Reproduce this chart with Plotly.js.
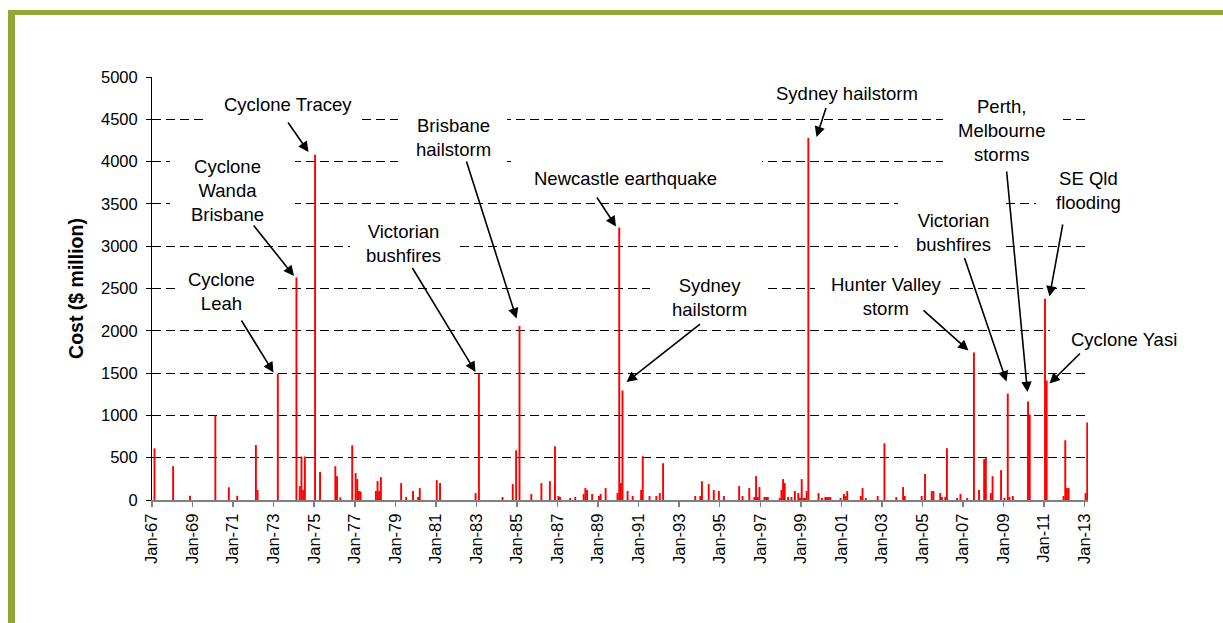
<!DOCTYPE html>
<html>
<head>
<meta charset="utf-8">
<script src="https://cdn.plot.ly/plotly-3.0.1.min.js"></script>
<style>
  html, body { margin: 0; padding: 0; background: #fff; }
  #wrap { position: relative; width: 1223px; height: 623px; overflow: hidden; }
  #chart { position: absolute; left: 0; top: 0; width: 1223px; height: 623px; }
  #frameL { position: absolute; left: 8px; top: 10px; width: 7px; height: 613px; background: #93A63A; pointer-events: none; }
  #frameT { position: absolute; left: 8px; top: 10px; width: 1215px; height: 5px; background: #93A63A; pointer-events: none; }
</style>
</head>
<body>
<div id="wrap">
  <div id="chart"></div>
  <div id="frameL"></div>
  <div id="frameT"></div>
</div>
<script>
// ---- DATA (month of event, insured cost in $ million) ----
const months = [
  '1967-02','1968-01','1968-11','1970-02','1970-10','1971-03','1972-02','1972-03','1973-03','1974-02',
  '1974-04','1974-05','1974-06','1974-07','1975-01','1975-04','1976-01','1976-02','1976-04','1976-11',
  '1977-01','1977-02','1977-03','1977-04','1978-01','1978-02','1978-03','1978-04','1979-04','1979-07',
  '1979-11','1980-02','1980-03','1981-01','1981-03','1982-12','1983-02','1984-04','1984-10','1984-12',
  '1985-02','1985-09','1986-03','1986-08','1986-11','1987-01','1987-02','1987-08','1987-11','1988-04',
  '1988-05','1988-06','1988-09','1989-01','1989-02','1989-05','1989-12','1990-01','1990-02','1990-03',
  '1990-06','1990-09','1991-02','1991-03','1991-07','1991-11','1992-01','1992-03','1993-10','1994-01',
  '1994-02','1994-06','1994-09','1994-12','1995-03','1995-12','1996-02','1996-06','1996-09','1996-10',
  '1996-11','1996-12','1997-03','1997-04','1997-05','1997-12','1998-01','1998-02','1998-03','1998-05',
  '1998-07','1998-09','1998-11','1998-12','1999-01','1999-02','1999-03','1999-04','1999-05','1999-11',
  '2000-01','2000-03','2000-04','2000-05','2000-06','2000-12','2001-02','2001-03','2001-04','2001-12',
  '2002-01','2002-03','2002-10','2003-02','2003-09','2004-01','2004-02','2004-12','2005-02','2005-06',
  '2005-07','2005-11','2005-12','2006-02','2006-03','2006-09','2006-11','2007-03','2007-07','2007-10',
  '2008-01','2008-02','2008-05','2008-06','2008-11','2009-01','2009-03','2009-04','2009-06','2010-03',
  '2010-04','2011-01','2011-02','2011-12','2012-01','2012-02','2012-03','2013-01','2013-02'
];
const costs = [
  610, 400, 50, 1000, 150, 50, 650, 120, 1490, 2630,
  165, 514, 118, 514, 4080, 330, 400, 282, 31, 647,
  318, 247, 106, 100, 106, 223, 106, 270, 200, 35,
  106, 35, 141, 235, 200, 82, 1490, 35, 188, 588,
  2058, 71, 200, 223, 635, 47, 35, 24, 35, 71,
  141, 118, 71, 47, 71, 141, 82, 3220, 200, 1294,
  106, 47, 118, 518, 47, 47, 82, 435, 47, 47,
  223, 188, 118, 106, 47, 165, 47, 141, 35, 282,
  35, 153, 35, 35, 35, 24, 118, 247, 200, 35,
  35, 106, 82, 24, 247, 24, 24, 106, 4280, 82,
  24, 35, 35, 35, 35, 24, 71, 47, 106, 47,
  141, 24, 47, 670, 35, 153, 47, 47, 306, 106,
  106, 82, 35, 35, 612, 24, 71, 24, 1744, 118,
  482, 506, 82, 282, 353, 24, 1258, 35, 47, 1164,
  1011, 2379, 1412, 47, 706, 141, 141, 82, 917
];
const yTicks = [0, 500, 1000, 1500, 2000, 2500, 3000, 3500, 4000, 4500, 5000];
const xStart = '1967-01-01', xEnd = '2013-03-01';
const yMax = 5000;

// ---- LAYOUT GEOMETRY ----
const PL = 152, PR = 135, PT = 77, PB = 123;
const W = 1223, H = 623;
const PW = W - PL - PR, PH = H - PT - PB;
const fx = p => (p - PL) / PW;          // pixel x -> paper fraction
const fy = p => (PT + PH - p) / PH;     // pixel y -> paper fraction
const t0 = Date.parse(xStart + 'T00:00:00Z'), t1 = Date.parse(xEnd + 'T00:00:00Z');
const dx = p => new Date(t0 + fx(p) * (t1 - t0)).toISOString().slice(0, 19).replace('T', ' ');
const dy = p => fy(p) * yMax;

const FONT = 'Liberation Sans, Arial, Helvetica, sans-serif';

// Event labels: text, centre (px)
const labels = [
  ['Cyclone Tracey', 288, 104],
  ['Cyclone<br>Wanda<br>Brisbane', 227, 191],
  ['Cyclone<br>Leah', 221, 291.5],
  ['Victorian<br>bushfires', 403, 243.5],
  ['Brisbane<br>hailstorm', 453, 137],
  ['Newcastle earthquake', 625, 178.5],
  ['Sydney<br>hailstorm', 709, 297],
  ['Sydney hailstorm', 847, 94],
  ['Hunter Valley<br>storm', 886, 296.5],
  ['Victorian<br>bushfires', 953, 232.5],
  ['Perth,<br>Melbourne<br>storms', 1001, 130.5],
  ['SE Qld<br>flooding', 1088, 190],
  ['Cyclone Yasi', 1124, 339]
];
// Arrows: tail (px) -> head (px)
const arrows = [
  [287, 121, 308.5, 152],
  [252.5, 224, 294, 276],
  [240.5, 319, 273.5, 372.5],
  [411.5, 266.5, 475.5, 372],
  [466, 160, 516.5, 318.5],
  [596, 196, 616, 226.5],
  [701.5, 323, 626.5, 382],
  [826.5, 106.5, 816.5, 137],
  [922, 309, 968.5, 350.5],
  [964, 256.5, 1006.5, 381.5],
  [1006.5, 170, 1027.5, 392],
  [1063, 223, 1049.5, 296.5],
  [1081.5, 352, 1049.5, 383.5]
];
// White text-box backgrounds (px): x0, x1, y0, y1
const boxes = [
  [205, 362, 86, 127],
  [170, 295, 150, 236],
  [180, 275, 268, 316],
  [398, 507, 112, 168],
  [513, 762, 150, 198],
  [350, 460, 214, 272],
  [650, 765, 272, 318],
  [760, 936, 70, 114],
  [943, 1063, 95, 186],
  [898, 1005, 198, 262],
  [815, 945, 266, 320],
  [1036, 1090, 158, 215],
  [1050, 1200, 320, 356]
];

const annotations = [];
labels.forEach(l => {
  annotations.push({
    xref: 'paper', yref: 'paper', x: fx(l[1]), y: fy(l[2]),
    xanchor: 'center', yanchor: 'middle', showarrow: false,
    text: l[0], align: 'center',
    font: {family: FONT, size: 18.5, color: '#000'}
  });
});
arrows.forEach(a => {
  annotations.push({
    xref: 'paper', yref: 'paper', x: fx(a[2]), y: fy(a[3]),
    ax: a[0] - a[2], ay: a[1] - a[3], axref: 'pixel', ayref: 'pixel',
    text: '', showarrow: true, arrowhead: 2, arrowsize: 1.3, arrowwidth: 1.6,
    arrowcolor: '#000', standoff: 0, startstandoff: 0,
    font: {size: 1}
  });
});

const shapes = boxes.map(b => ({
  type: 'rect', xref: 'x', yref: 'y', layer: 'between',
  x0: dx(b[0]), x1: dx(b[1]), y0: dy(b[3]), y1: dy(b[2]),
  fillcolor: '#ffffff', line: {width: 0}
}));

const trace = {
  type: 'bar', x: months, y: costs,
  xperiod: 'M1', xperiodalignment: 'middle',
  width: 3.0e9,
  marker: {color: '#FF0000', line: {width: 0}},
  hoverinfo: 'x+y'
};

const layout = {
  width: W, height: H,
  margin: {l: PL, r: PR, t: PT, b: PB, pad: 0},
  paper_bgcolor: '#ffffff', plot_bgcolor: '#ffffff',
  showlegend: false,
  font: {family: FONT, color: '#000'},
  xaxis: {
    type: 'date',
    range: [xStart, xEnd],
    tick0: xStart, dtick: 'M24', tickformat: '%b-%y',
    tickangle: -90,
    tickfont: {family: FONT, size: 16.5, color: '#000'},
    ticks: 'outside', ticklen: 5, tickwidth: 1.5, tickcolor: '#7f7f7f',
    showline: true, linecolor: '#808080', linewidth: 2,
    showgrid: false, zeroline: false, fixedrange: true
  },
  yaxis: {
    range: [0, yMax],
    tickvals: yTicks,
    tickfont: {family: FONT, size: 16.5, color: '#000'},
    ticks: 'outside', ticklen: 5, tickwidth: 1, tickcolor: '#000',
    ticklabelstandoff: 5,
    showline: true, linecolor: '#000', linewidth: 1,
    showgrid: true, gridcolor: '#000', gridwidth: 1, griddash: '9px,5px',
    zeroline: false, fixedrange: true,
    title: {text: '<b>Cost ($ million)</b>', font: {family: FONT, size: 19.5, color: '#000'}, standoff: 12}
  },
  annotations: annotations,
  shapes: shapes
};

Plotly.newPlot('chart', [trace], layout, {staticPlot: true, displayModeBar: false});
</script>
</body>
</html>
